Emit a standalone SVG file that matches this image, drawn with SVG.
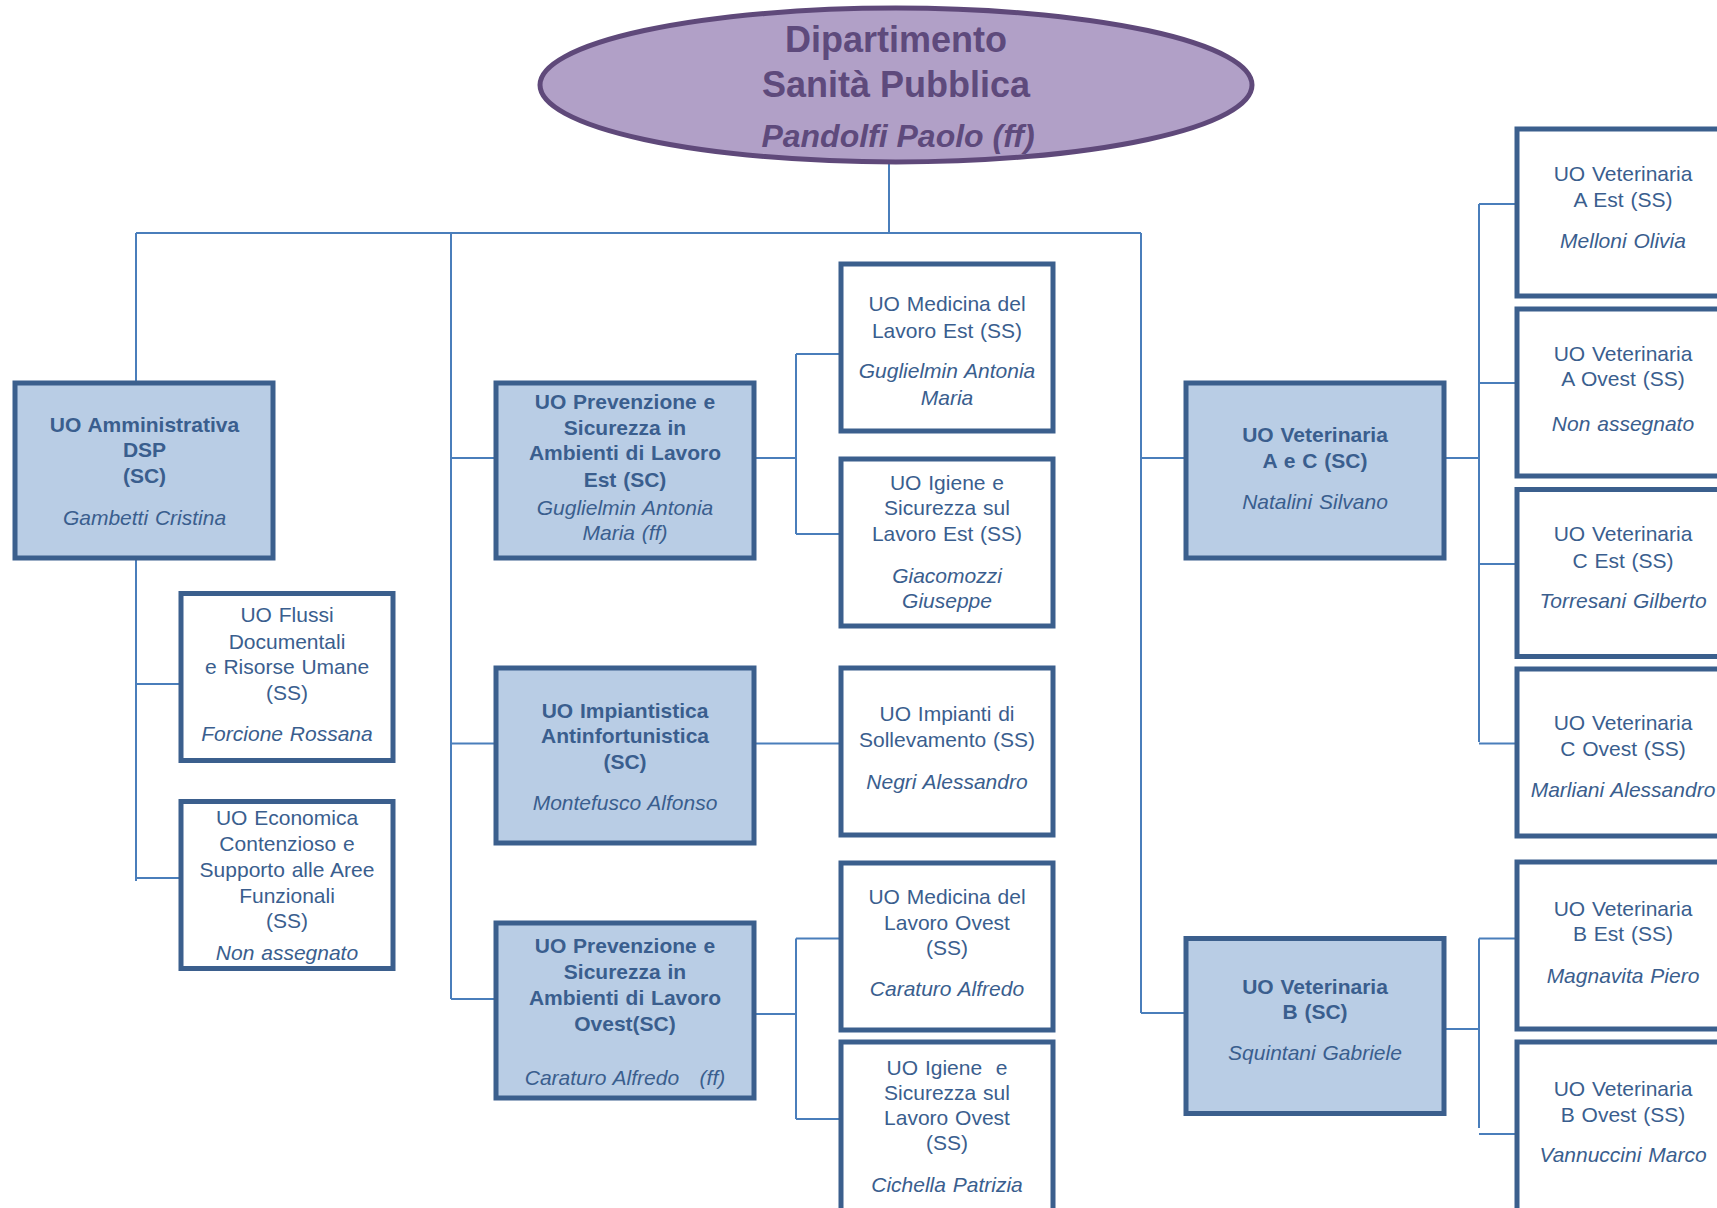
<svg xmlns="http://www.w3.org/2000/svg" width="1717" height="1208" viewBox="0 0 1717 1208">
<style>
.sc{fill:#B9CDE5;stroke:#3B5F8D;stroke-width:5}
.ss{fill:#FFFFFF;stroke:#3B5F8D;stroke-width:5}
text{font-family:"Liberation Sans",Arial,sans-serif;font-size:21px;fill:#3A5E8E;text-anchor:middle;word-spacing:1px}
.b{font-weight:bold}
.i{font-style:italic}
.h{fill:#5E4A7C;font-weight:bold;font-size:36px;word-spacing:0}
.conn{stroke:#4A7EBB;stroke-width:2;fill:none}
</style>
<rect width="1717" height="1208" fill="#FFFFFF"/>
<g id="connectors" class="conn">
<path d="M889 162V233M136 233H1141M136 233V381M451 233V999M1141 233V1013"/>
<path d="M451 458H496M451 743.5H496M451 999H496M1141 458H1186M1141 1013H1186"/>
<path d="M136 558V881M136 684H181M136 878H181"/>
<path d="M754 458H796M796 354V534M796 354H841M796 534H841"/>
<path d="M754 743.5H841"/>
<path d="M754 1014H796M796 938.5V1119M796 938.5H841M796 1119H841"/>
<path d="M1444 458H1479M1479 204V742M1479 204H1517M1479 383H1517M1479 564H1517M1479 743.5H1517"/>
<path d="M1444 1029H1479M1479 938.5V1128M1479 938.5H1517M1479 1134H1517"/>
</g>
<g id="dipartimento">
<ellipse cx="896" cy="85" rx="356" ry="77" fill="#B1A0C7" stroke="#5F497A" stroke-width="5"/>
<text x="896" y="52" class="h">Dipartimento</text>
<text x="896" y="97" class="h">Sanità Pubblica</text>
<text x="898" y="147" class="h i" style="font-size:32px">Pandolfi Paolo (ff)</text>
</g>
<g id="amministrativa">
<rect x="15" y="383" width="258" height="175" class="sc"/>
<text x="144.5" y="432" class="b">UO Amministrativa</text>
<text x="144.5" y="457" class="b">DSP</text>
<text x="144.5" y="483" class="b">(SC)</text>
<text x="144.5" y="525" class="i">Gambetti Cristina</text>
</g>
<g id="flussi">
<rect x="181" y="593.5" width="212" height="167" class="ss"/>
<text x="287" y="622">UO Flussi</text>
<text x="287" y="649">Documentali</text>
<text x="287" y="674">e Risorse Umane</text>
<text x="287" y="700">(SS)</text>
<text x="287" y="741" class="i">Forcione Rossana</text>
</g>
<g id="economica">
<rect x="181" y="801.5" width="212" height="167" class="ss"/>
<text x="287" y="825">UO Economica</text>
<text x="287" y="851">Contenzioso e</text>
<text x="287" y="876.5">Supporto alle Aree</text>
<text x="287" y="903">Funzionali</text>
<text x="287" y="928">(SS)</text>
<text x="287" y="960" class="i">Non assegnato</text>
</g>
<g id="prev-est">
<rect x="496" y="383" width="258" height="175" class="sc"/>
<text x="625" y="409" class="b">UO Prevenzione e</text>
<text x="625" y="435" class="b">Sicurezza in</text>
<text x="625" y="460" class="b">Ambienti di Lavoro</text>
<text x="625" y="487" class="b">Est (SC)</text>
<text x="625" y="515" class="i">Guglielmin Antonia</text>
<text x="625" y="540" class="i">Maria (ff)</text>
</g>
<g id="impiantistica">
<rect x="496" y="668" width="258" height="175" class="sc"/>
<text x="625" y="718" class="b">UO Impiantistica</text>
<text x="625" y="743" class="b">Antinfortunistica</text>
<text x="625" y="769" class="b">(SC)</text>
<text x="625" y="810" class="i">Montefusco Alfonso</text>
</g>
<g id="prev-ovest">
<rect x="496" y="923" width="258" height="175" class="sc"/>
<text x="625" y="953" class="b">UO Prevenzione e</text>
<text x="625" y="979" class="b">Sicurezza in</text>
<text x="625" y="1005" class="b">Ambienti di Lavoro</text>
<text x="625" y="1031" class="b">Ovest(SC)</text>
<text x="625" y="1085" class="i" style="white-space:pre">Caraturo Alfredo   (ff)</text>
</g>
<g id="medicina-est">
<rect x="841" y="264" width="212" height="167" class="ss"/>
<text x="947" y="311">UO Medicina del</text>
<text x="947" y="338">Lavoro Est (SS)</text>
<text x="947" y="378" class="i">Guglielmin Antonia</text>
<text x="947" y="405" class="i">Maria</text>
</g>
<g id="igiene-est">
<rect x="841" y="459" width="212" height="167" class="ss"/>
<text x="947" y="490">UO Igiene e</text>
<text x="947" y="515">Sicurezza sul</text>
<text x="947" y="541">Lavoro Est (SS)</text>
<text x="947" y="583" class="i">Giacomozzi</text>
<text x="947" y="608" class="i">Giuseppe</text>
</g>
<g id="impianti">
<rect x="841" y="668" width="212" height="167" class="ss"/>
<text x="947" y="721">UO Impianti di</text>
<text x="947" y="747">Sollevamento (SS)</text>
<text x="947" y="789" class="i">Negri Alessandro</text>
</g>
<g id="medicina-ovest">
<rect x="841" y="863" width="212" height="167" class="ss"/>
<text x="947" y="904">UO Medicina del</text>
<text x="947" y="930">Lavoro Ovest</text>
<text x="947" y="955">(SS)</text>
<text x="947" y="996" class="i">Caraturo Alfredo</text>
</g>
<g id="igiene-ovest">
<rect x="841" y="1042" width="212" height="175" class="ss"/>
<text x="947" y="1075" style="white-space:pre">UO Igiene  e</text>
<text x="947" y="1100">Sicurezza sul</text>
<text x="947" y="1125">Lavoro Ovest</text>
<text x="947" y="1150">(SS)</text>
<text x="947" y="1192" class="i">Cichella Patrizia</text>
</g>
<g id="vet-ac">
<rect x="1186" y="383" width="258" height="175" class="sc"/>
<text x="1315" y="442" class="b">UO Veterinaria</text>
<text x="1315" y="468" class="b">A e C (SC)</text>
<text x="1315" y="509" class="i">Natalini Silvano</text>
</g>
<g id="vet-b">
<rect x="1186" y="938.5" width="258" height="175" class="sc"/>
<text x="1315" y="994" class="b">UO Veterinaria</text>
<text x="1315" y="1019" class="b">B (SC)</text>
<text x="1315" y="1060" class="i">Squintani Gabriele</text>
</g>
<g id="vet-a-est">
<rect x="1517" y="129" width="212" height="167" class="ss"/>
<text x="1623" y="181">UO Veterinaria</text>
<text x="1623" y="207">A Est (SS)</text>
<text x="1623" y="248" class="i">Melloni Olivia</text>
</g>
<g id="vet-a-ovest">
<rect x="1517" y="309" width="212" height="167" class="ss"/>
<text x="1623" y="361">UO Veterinaria</text>
<text x="1623" y="386">A Ovest (SS)</text>
<text x="1623" y="431" class="i">Non assegnato</text>
</g>
<g id="vet-c-est">
<rect x="1517" y="489.5" width="212" height="167" class="ss"/>
<text x="1623" y="541">UO Veterinaria</text>
<text x="1623" y="568">C Est (SS)</text>
<text x="1623" y="608" class="i">Torresani Gilberto</text>
</g>
<g id="vet-c-ovest">
<rect x="1517" y="669" width="212" height="167" class="ss"/>
<text x="1623" y="730">UO Veterinaria</text>
<text x="1623" y="756">C Ovest (SS)</text>
<text x="1623" y="797" class="i">Marliani Alessandro</text>
</g>
<g id="vet-b-est">
<rect x="1517" y="862" width="212" height="167" class="ss"/>
<text x="1623" y="916">UO Veterinaria</text>
<text x="1623" y="941">B Est (SS)</text>
<text x="1623" y="983" class="i">Magnavita Piero</text>
</g>
<g id="vet-b-ovest">
<rect x="1517" y="1042" width="212" height="175" class="ss"/>
<text x="1623" y="1096">UO Veterinaria</text>
<text x="1623" y="1122">B Ovest (SS)</text>
<text x="1623" y="1162" class="i">Vannuccini Marco</text>
</g>
</svg>
